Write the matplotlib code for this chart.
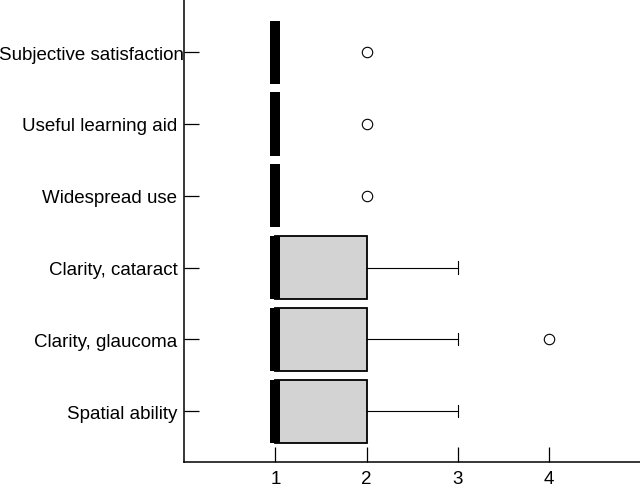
import matplotlib
matplotlib.use('Agg')
import matplotlib.pyplot as plt

plt.rcParams['font.family'] = ['Liberation Sans', 'DejaVu Sans']

# bottom to top
labels = ['Spatial ability', 'Clarity, glaucoma', 'Clarity, cataract',
          'Widespread use', 'Useful learning aid', 'Subjective satisfaction']
medians = [1, 1, 1, 1, 1, 1]
q1 = [1, 1, 1, 1, 1, 1]
q3 = [2, 2, 2, 1, 1, 1]
whis_lo = [1, 1, 1, 1, 1, 1]
whis_hi = [3, 3, 3, 1, 1, 1]
fliers = [[], [4], [], [2], [2], [2]]

stats = []
for i in range(len(labels)):
    stats.append({'label': labels[i], 'med': medians[i], 'q1': q1[i], 'q3': q3[i],
                  'whislo': whis_lo[i], 'whishi': whis_hi[i], 'fliers': fliers[i]})

fig = plt.figure(figsize=(6.4, 4.89), dpi=100)
ax = fig.add_axes([0.288, 0.053, 0.712, 0.947])

ax.bxp(stats, positions=range(1, 7), orientation='horizontal', widths=0.88,
       patch_artist=True, showcaps=True,
       boxprops=dict(facecolor='#d3d3d3', edgecolor='black', linewidth=1.3),
       medianprops=dict(color='black', linewidth=7.2, solid_capstyle='butt'),
       whiskerprops=dict(color='black', linewidth=0.8),
       capprops=dict(color='black', linewidth=0.8),
       capwidths=0.17,
       flierprops=dict(marker='o', markerfacecolor='none', markeredgecolor='black',
                       markersize=7.5, markeredgewidth=0.8))

ax.set_xlim(0, 5)
ax.set_ylim(0.29, 6.74)
ax.set_xticks([1, 2, 3, 4])
ax.set_xticklabels(['1', '2', '3', '4'])
ax.set_yticks(range(1, 7))
ax.set_yticklabels(labels)

for s in ['top', 'right']:
    ax.spines[s].set_visible(False)
for s in ['left', 'bottom']:
    ax.spines[s].set_linewidth(1.1)

ax.tick_params(axis='both', direction='in', length=11, width=0.9, labelsize=13.5)
ax.tick_params(axis='y', pad=5)
ax.tick_params(axis='x', pad=5.5)
# longest label sits right against the axis
ax.yaxis.get_major_ticks()[5].set_pad(0.3)

plt.savefig('out.png', dpi=100)
